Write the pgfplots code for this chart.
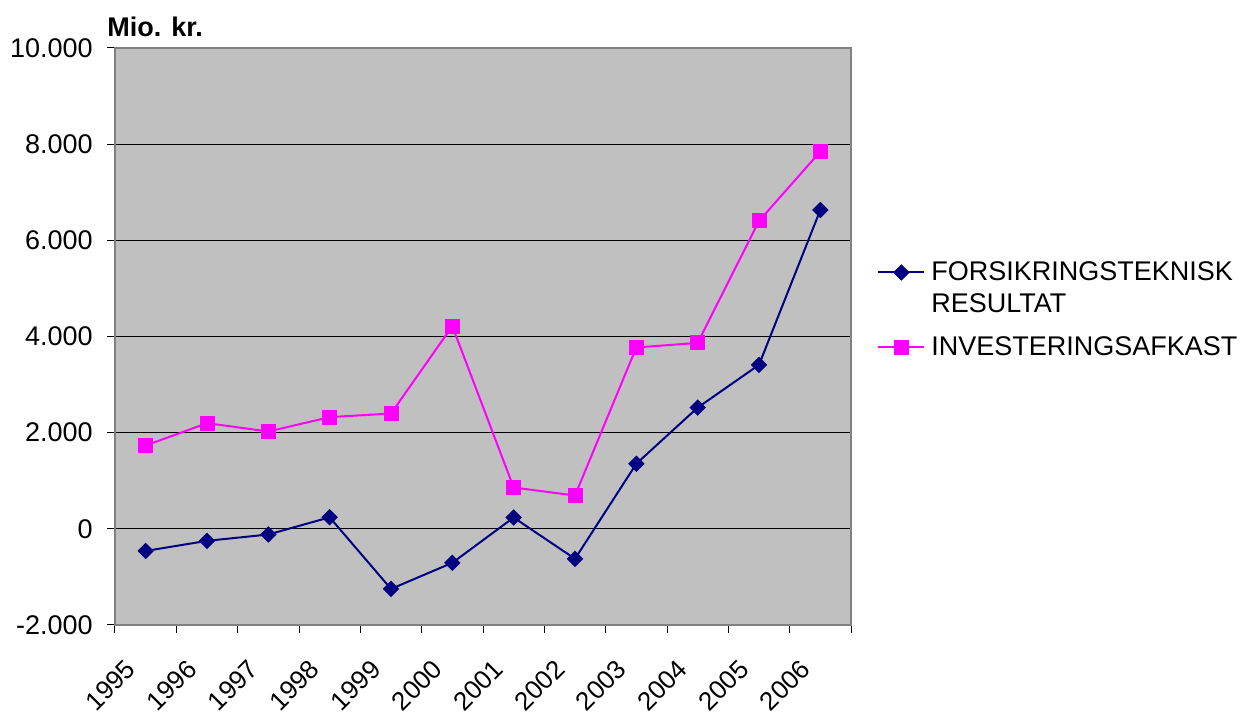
\documentclass[border=0pt]{standalone}
\usepackage{fontspec}
\setmainfont{Liberation Sans}
\usepackage{pgfplots}
\pgfplotsset{compat=1.18}
\definecolor{navyline}{HTML}{000080}
\definecolor{magentaline}{HTML}{FF00FF}
\definecolor{plotbg}{HTML}{C0C0C0}

\begin{document}
\begin{tikzpicture}
\useasboundingbox (0,0) rectangle (624pt,357.5pt);
\begin{axis}[
  at={(57.5pt,45pt)}, anchor=south west,
  width=368pt, height=288.5pt, scale only axis,
  xmin=0, xmax=12, ymin=-2000, ymax=10000,
  axis background/.style={fill=plotbg},
  axis line style={draw=black!50, line width=0.8pt},
  ytick={-2000,0,...,10000},
  scaled y ticks=false,
  ymajorgrids, grid style={black, line width=0.5pt},
  % year labels sit slightly left of each category centre
  xtick={0.15,1.15,...,11.15},
  xticklabels={1995,1996,1997,1998,1999,2000,2001,2002,2003,2004,2005,2006},
  minor xtick={0,1,...,12},
  major x tick style={draw=none},
  xtick pos=bottom, ytick pos=left,
  tick align=outside, major tick length=4pt, minor tick length=4pt,
  tick style={black, line width=0.5pt},
  /pgf/number format/.cd, 1000 sep={.}, assume math mode=true, /pgfplots/.cd,
  yticklabel style={font=\fontsize{13.5}{16}\selectfont, inner sep=1pt, xshift=-6pt},
  xticklabel shift=11pt,
  xticklabel style={font=\fontsize{13}{15}\selectfont, rotate=45, anchor=north east, inner sep=1pt},
  title={\bfseries Mio. kr.},
  title style={at={(0,1)}, anchor=base west, inner sep=0pt, xshift=-4pt, yshift=-0.5pt,
    font=\fontsize{13.5}{16}\selectfont},
  legend style={at={(1,0.546)}, anchor=west, xshift=13pt, draw=none, fill=none,
    inner sep=0pt, row sep=0pt, column sep=0pt,
    font=\fontsize{13.5}{15}\selectfont,
    nodes={inner xsep=3pt, inner ysep=2.65pt}},
  legend cell align=left,
  legend image code/.code={\draw[mark repeat=2,mark phase=2]
    plot coordinates {(0pt,0pt) (11.5pt,0pt) (23pt,0pt)};},
]
\addplot[navyline, line width=1pt, mark=square*, mark size=2.4pt,
  mark options={solid, fill=navyline, rotate=45}] coordinates {
  (0.5,-460) (1.5,-250) (2.5,-118) (3.5,240) (4.5,-1250) (5.5,-707)
  (6.5,235) (7.5,-624) (8.5,1354) (9.5,2521) (10.5,3410) (11.5,6631)};
\addlegendentry{FORSIKRINGSTEKNISK}
\addlegendimage{empty legend}
\addlegendentry{\raisebox{5pt}{RESULTAT}}
\addplot[magentaline, line width=1pt, mark=square*, mark size=3.25pt,
  mark options={solid, fill=magentaline}] coordinates {
  (0.5,1732) (1.5,2198) (2.5,2024) (3.5,2323) (4.5,2398) (5.5,4215)
  (6.5,859) (7.5,693) (8.5,3771) (9.5,3867) (10.5,6402) (11.5,7846)};
\addlegendentry{INVESTERINGSAFKAST}
\end{axis}
\end{tikzpicture}
\end{document}
